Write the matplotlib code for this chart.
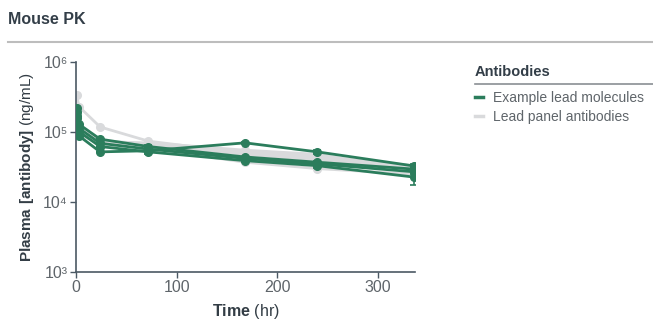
import numpy as np
import matplotlib
matplotlib.use("Agg")
import matplotlib.pyplot as plt
from matplotlib.lines import Line2D

plt.rcParams['font.family'] = ['Liberation Sans', 'DejaVu Sans']
plt.rcParams['mathtext.fontset'] = 'custom'
plt.rcParams['mathtext.rm'] = 'Liberation Sans'
plt.rcParams['mathtext.bf'] = 'Liberation Sans:bold'

# --- data -------------------------------------------------------------
time_hr = [0.5, 3, 24, 72, 168, 240, 336]

# example lead molecules (ng/mL)
lead_a = [1.58e5, 8.8e4, 5.2e4, 5.4e4, 7.0e4, 5.2e4, 3.27e4]
lead_b = [2.22e5, 1.29e5, 7.9e4, 6.2e4, 4.4e4, 3.7e4, 2.95e4]
lead_c = [1.95e5, 1.13e5, 6.9e4, 5.7e4, 4.2e4, 3.5e4, 2.7e4]
lead_d = [1.71e5, 1.01e5, 6.2e4, 5.2e4, 3.9e4, 3.3e4, 2.27e4]
lead_err_a = [0, 0, 0, 3e3, 3e3, 3e3, 2e3]
lead_err_b = [0, 0, 0, 4e3, 0, 2e3, 2e3]
lead_err_c = [0, 0, 0, 3e3, 0, 2e3, 2e3]
lead_err_d = [0, 0, 0, 4e3, 2e3, 2e3, 5e3]

# lead panel antibodies (ng/mL)
panel_1 = [3.4e5, 2.3e5, 1.18e5, 7.4e4, 5.0e4, 4.2e4, 3.1e4]
panel_2 = [2.0e5, 1.2e5, 7.5e4, 6.8e4, 5.3e4, 4.5e4, 3.3e4]
panel_3 = [1.8e5, 1.05e5, 7.0e4, 6.5e4, 4.8e4, 4.0e4, 3.0e4]
panel_4 = [1.6e5, 9.5e4, 6.6e4, 5.9e4, 3.7e4, 3.0e4, 2.5e4]
panel_5 = [1.4e5, 9.0e4, 7.2e4, 7.0e4, 5.5e4, 4.8e4, 2.8e4]

ytick_vals = [1e3, 1e4, 1e5, 1e6]
ytick_text = ["10³", "10⁴", "10⁵", "10⁶"]
xtick_vals = [0, 100, 200, 300]

GREEN = "#2b7d5c"
GREY = "#d9dadc"
AXCOL = "#4b5964"
TXT = "#5f656a"

# --- figure -----------------------------------------------------------
W, H = 653, 322
fig = plt.figure(figsize=(W / 100, H / 100), dpi=100)
ax = fig.add_axes([76 / W, 1 - 272 / H, (415 - 76) / W, (272 - 62) / H])

for p in [panel_1, panel_2, panel_3, panel_4, panel_5]:
    ax.plot(time_hr, p, color=GREY, lw=2, marker="o", ms=5.5, zorder=2)

leads = [(lead_a, lead_err_a), (lead_b, lead_err_b),
         (lead_c, lead_err_c), (lead_d, lead_err_d)]
for vals, err in leads:
    ax.errorbar(time_hr, vals, yerr=err, color=GREEN, lw=2, marker="o",
                ms=5.5, capsize=3, elinewidth=1.2, capthick=1.2, zorder=3)

ax.set_yscale("log")
ax.set_ylim(1e3, 1e6)
ax.set_xlim(0, 337)
ax.set_yticks(ytick_vals)
ax.set_yticklabels(ytick_text)
ax.yaxis.set_minor_locator(matplotlib.ticker.NullLocator())
ax.set_xticks(xtick_vals)

for s in ["top", "right"]:
    ax.spines[s].set_visible(False)
for s in ["left", "bottom"]:
    ax.spines[s].set_color(AXCOL)
    ax.spines[s].set_linewidth(1.2)
ax.tick_params(colors=AXCOL, labelcolor=TXT, labelsize=11.5, length=4,
               width=1, pad=2)

ax.set_xlabel(r"$\mathbf{Time}$ (hr)", fontsize=11.5, color="#333d45",
              labelpad=5)
ax.set_ylabel(r"$\mathbf{Plasma\ [antibody]}$ (ng/mL)", fontsize=11,
              color="#333d45", labelpad=5)

# header
fig.text(8 / W, 1 - 20 / H, "Mouse PK", fontsize=11.5, fontweight="bold",
         color="#333e48", va="center", ha="left")
fig.add_artist(Line2D([8 / W, 1.0], [1 - 42 / H, 1 - 42 / H],
                      color="#bdbdbd", lw=1.5))

# legend
fig.text(475 / W, 1 - 72 / H, "Antibodies", fontsize=10.5, fontweight="bold",
         color="#333e48", va="center", ha="left")
fig.add_artist(Line2D([475 / W, 1.0], [1 - 84 / H, 1 - 84 / H],
                      color="#8a8f94", lw=1.2))
handles = [Line2D([], [], color=GREEN, lw=2.5),
           Line2D([], [], color=GREY, lw=2.5)]
fig.legend(handles, ["Example lead molecules", "Lead panel antibodies"],
           loc="upper left", bbox_to_anchor=(469 / W, 1 - 85 / H),
           frameon=False, fontsize=10, handlelength=0.6, handletextpad=0.7,
           labelspacing=0.38, labelcolor=TXT, borderaxespad=0)

fig.savefig("out.png", dpi=100)
